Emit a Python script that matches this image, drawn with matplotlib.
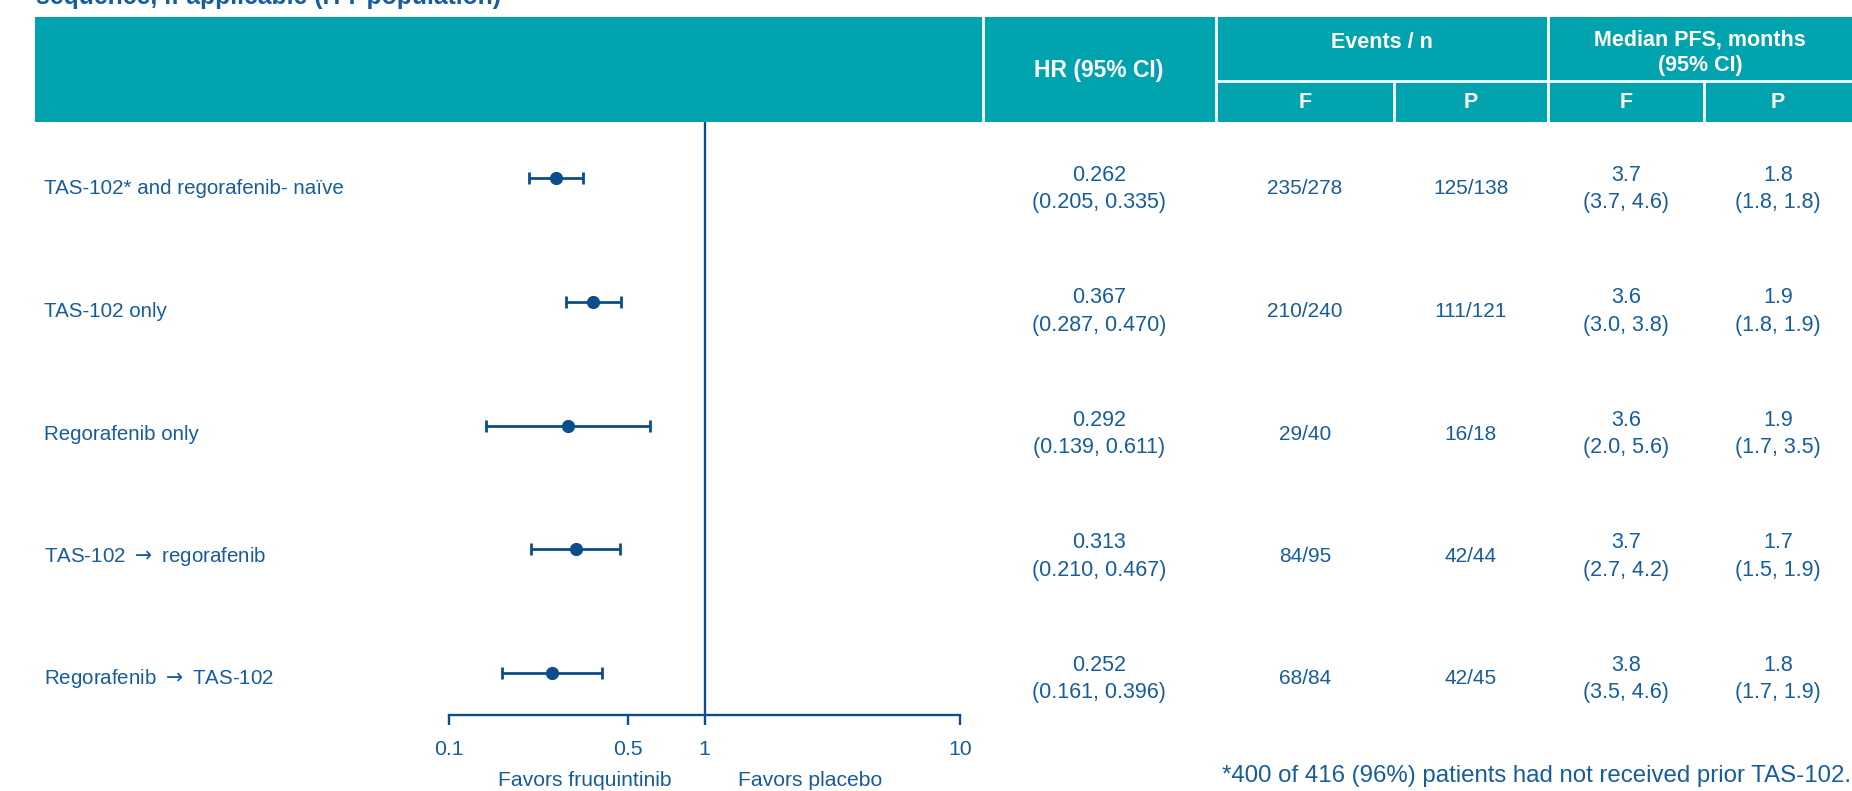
"""Forest plot of PFS hazard ratios by prior TAS-102 / regorafenib sequence."""

import matplotlib
matplotlib.use("Agg")
import matplotlib.pyplot as plt
from matplotlib.patches import Rectangle
from matplotlib.ticker import NullLocator
import numpy as np

plt.rcParams["font.family"] = ["Liberation Sans", "DejaVu Sans"]
plt.rcParams["mathtext.fontset"] = "dejavusans"

# ------------------------------------------------------------------
# Data
# ------------------------------------------------------------------
subgroups = [
    "TAS-102* and regorafenib- naïve",
    "TAS-102 only",
    "Regorafenib only",
    "TAS-102 \u2192 regorafenib",
    "Regorafenib \u2192 TAS-102",
]
hr = np.array([0.262, 0.367, 0.292, 0.313, 0.252])
hr_low = np.array([0.205, 0.287, 0.139, 0.210, 0.161])
hr_high = np.array([0.335, 0.470, 0.611, 0.467, 0.396])

events_f = ["235/278", "210/240", "29/40", "84/95", "68/84"]
events_p = ["125/138", "111/121", "16/18", "42/44", "42/45"]

pfs_f = [3.7, 3.6, 3.6, 3.7, 3.8]
pfs_f_low = [3.7, 3.0, 2.0, 2.7, 3.5]
pfs_f_high = [4.6, 3.8, 5.6, 4.2, 4.6]
pfs_p = [1.8, 1.9, 1.9, 1.7, 1.8]
pfs_p_low = [1.8, 1.8, 1.7, 1.5, 1.7]
pfs_p_high = [1.8, 1.9, 3.5, 1.9, 1.9]

x_ticks = [0.1, 0.5, 1, 10]
x_tick_labels = ["0.1", "0.5", "1", "10"]

# ------------------------------------------------------------------
# Style / layout (pixels of a 1852x791 canvas)
# ------------------------------------------------------------------
TEAL = "#00A3AE"
TEXT = "#175C9C"
MARK = "#0B4E8B"
W, H = 1852, 791

fig = plt.figure(figsize=(W / 100, H / 100), dpi=100)

# Full-canvas axes for header and table text
tab = fig.add_axes([0, 0, 1, 1])
tab.set_xlim(0, W)
tab.set_ylim(H, 0)
tab.axis("off")

# Title (cut off at top of the slide)
tab.text(36, 4, "sequence, if applicable (ITT population)", fontsize=17.8,
         fontweight="bold", color=TEXT, va="baseline", ha="left")

# Header band
tab.add_patch(Rectangle((35, 17), W - 35, 105, color=TEAL, lw=0))
for x in (983, 1216, 1548):
    tab.plot([x, x], [17, 122], color="white", lw=2)
for x in (1394, 1704):
    tab.plot([x, x], [81, 122], color="white", lw=2)
tab.plot([1216, W], [81, 81], color="white", lw=2)

hdr = dict(color="white", fontweight="bold", ha="center", va="center")
tab.text(1099, 70, "HR (95% CI)", fontsize=16.5, **hdr)
tab.text(1382, 42, "Events / n", fontsize=15.5, **hdr)
tab.text(1700, 53, "Median PFS, months\n(95% CI)", fontsize=15.5,
         linespacing=1.3, **hdr)
for x, s in zip((1305, 1471, 1626, 1778), ("F", "P", "F", "P")):
    tab.text(x, 102, s, fontsize=15.5, **hdr)

# Table rows
cell = dict(color=TEXT, ha="center", va="center", linespacing=1.42)
text_rows = 189 + 122.5 * np.arange(len(subgroups))
for i, y in enumerate(text_rows):
    label = subgroups[i].replace("\u2192", r"$\rightarrow$")
    tab.text(44, y, label, color=TEXT, fontsize=14.8, ha="left", va="center")
    tab.text(1099, y, f"{hr[i]:.3f}\n({hr_low[i]:.3f}, {hr_high[i]:.3f})",
             fontsize=15.5, **cell)
    tab.text(1305, y, events_f[i], fontsize=15, **cell)
    tab.text(1471, y, events_p[i], fontsize=15, **cell)
    tab.text(1626, y, f"{pfs_f[i]:.1f}\n({pfs_f_low[i]:.1f}, {pfs_f_high[i]:.1f})",
             fontsize=15.5, **cell)
    tab.text(1778, y, f"{pfs_p[i]:.1f}\n({pfs_p_low[i]:.1f}, {pfs_p_high[i]:.1f})",
             fontsize=15.5, **cell)

# Axis captions and footnote
tab.text(585, 781, "Favors fruquintinib", color=TEXT, fontsize=15.2,
         ha="center", va="center")
tab.text(810, 781, "Favors placebo", color=TEXT, fontsize=15.2,
         ha="center", va="center")
tab.text(1222, 776, "*400 of 416 (96%) patients had not received prior TAS-102.",
         color=TEXT, fontsize=17.3, ha="left", va="center")

# ------------------------------------------------------------------
# Forest plot
# ------------------------------------------------------------------
ax = fig.add_axes([449 / W, 1 - 715 / H, (960 - 449) / W, (715 - 122) / H])
ax.patch.set_alpha(0)
rows = np.arange(len(hr))

ax.errorbar(hr, rows, xerr=[hr - hr_low, hr_high - hr], fmt="o", color=MARK,
            ms=8.5, elinewidth=2, capsize=4.5, capthick=2)
ax.axvline(1, color=MARK, lw=1.7)

ax.set_xscale("log")
ax.set_xlim(0.1, 10)
ax.set_ylim(4 + (715 - 673.2) / 123.7, -(178.3 - 122) / 123.7)
ax.set_xticks(x_ticks)
ax.set_xticklabels(x_tick_labels)
ax.xaxis.set_minor_locator(NullLocator())
ax.set_yticks([])
ax.tick_params(axis="x", direction="out", length=7, width=1.7, colors=MARK,
               labelcolor=TEXT, labelsize=15.3, pad=11)
for side in ("top", "left", "right"):
    ax.spines[side].set_visible(False)
ax.spines["bottom"].set_color(MARK)
ax.spines["bottom"].set_linewidth(1.7)

fig.savefig("out.png", dpi=100)
